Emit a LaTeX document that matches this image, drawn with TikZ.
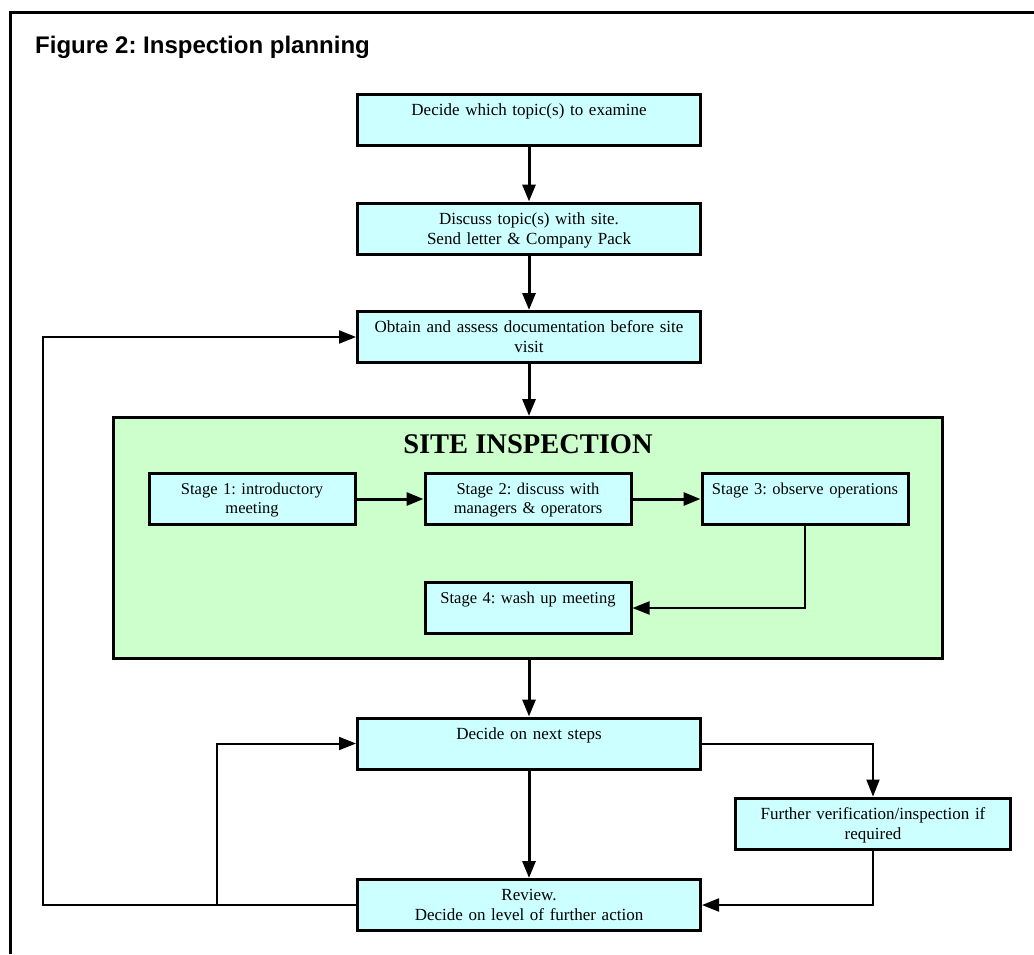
\documentclass[tikz,border=0pt]{standalone}
\usepackage{fontspec}
\setmainfont{Liberation Serif}
\newfontfamily\headfont{Liberation Sans}
\usetikzlibrary{arrows.meta}
\definecolor{boxcyan}{HTML}{CCFFFF}
\definecolor{sitegreen}{HTML}{CCFFCC}
\tikzset{
  box/.style={draw, line width=3pt, fill=boxcyan, inner xsep=4pt, inner ysep=0pt,
    text height=21pt, text depth=30pt, align=center,
    font=\frenchspacing\fontsize{17}{20}\selectfont},
  widebox/.style={box, text width=335pt},
  stagebox/.style={box, text width=198pt, font=\frenchspacing\fontsize{16.5}{19}\selectfont},
  arr/.style={line width=3pt, -{Triangle[length=17pt,width=13pt]}},
  thinarr/.style={line width=2pt, -{Triangle[length=17pt,width=13pt]}},
  frameline/.style={line width=3pt},
}
\begin{document}
\frenchspacing
\begin{tikzpicture}[x=1pt, y=-1pt]
\useasboundingbox (0,0) rectangle (1034,954);

% page frame
\draw[frameline] (10,954) -- (10,12) -- (1034,12);

% heading
\node[anchor=base west, inner sep=0pt, font=\headfont\bfseries\frenchspacing\fontsize{24}{28}\selectfont]
  (heading) at (35,53) {Figure 2: Inspection planning};

% preparation steps
\node[widebox] (b1) at (529,119.5) {Decide which topic(s) to examine};
\node[widebox] (b2) at (529,228.5) {Discuss topic(s) with site.\\Send letter \& Company Pack};
\node[widebox] (b3) at (529,337) {Obtain and assess documentation before site\\visit};

% site inspection panel
\node[draw, line width=3pt, fill=sitegreen, minimum width=829pt, minimum height=241pt,
  inner sep=0pt] (site) at (528,538) {};
\node[anchor=base, inner sep=0pt, font=\bfseries\fontsize{28.5}{32}\selectfont]
  (sitetitle) at (528,453) {SITE INSPECTION};
\node[stagebox] (s1) at (252,499) {Stage 1: introductory\\meeting};
\node[stagebox] (s2) at (528,499) {Stage 2: discuss with\\managers \& operators};
\node[stagebox] (s3) at (805,499) {Stage 3: observe operations};
\node[stagebox] (s4) at (528,608) {Stage 4: wash up meeting};

% follow-up
\node[widebox] (decide) at (529,743.5) {Decide on next steps};
\node[box, text width=267pt] (further) at (873,823.5) {Further verification/inspection if\\required};
\node[widebox] (review) at (529,905) {Review.\\Decide on level of further action};

% loop-back columns
\coordinate (outercol) at (43,0);
\coordinate (innercol) at (217,0);

% connectors
\draw[arr] (b1) -- (b2);
\draw[arr] (b2) -- (b3);
\draw[arr] (b3.south) -- (b3.south |- site.north);
\draw[arr] (s1) -- (s2);
\draw[arr] (s2) -- (s3);
\draw[thinarr] (s3.south) |- (s4.east);
\draw[arr] (decide.north |- site.south) -- (decide.north);
\draw[arr] (decide) -- (review);
\draw[thinarr] (decide.east) -| (further.north);
\draw[thinarr] (further.south) |- (review.east);
\draw[thinarr] (review.west) -- (review.west -| outercol) |- (b3.west);
\draw[thinarr] (review.west -| innercol) |- (decide.west);
\end{tikzpicture}
\end{document}
